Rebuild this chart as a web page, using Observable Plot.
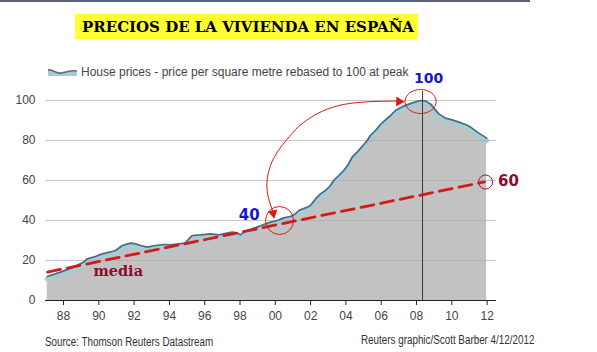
<!DOCTYPE html>
<html>
<head>
<meta charset="utf-8">
<script src="https://cdn.jsdelivr.net/npm/d3@7"></script>
<script src="https://cdn.jsdelivr.net/npm/@observablehq/plot@0.6"></script>
<style>
  body { margin: 0; background: #fff; }
  #wrap { position: relative; width: 597px; height: 352px; overflow: hidden; font-family: "Liberation Sans", Arial, sans-serif; }
  #chart { position: absolute; left: 0; top: 0; }
  .abs { position: absolute; white-space: nowrap; }
  .foot { font-family: "Liberation Sans", Arial, sans-serif; font-size: 12px; color: #333; transform: scaleX(0.82); transform-origin: 0 0; }
</style>
</head>
<body>
<div id="wrap">
  <div id="chart"></div>
  <div class="abs" style="left:0;top:0;width:530px;height:2px;background:#5b6079;"></div>
  <svg class="abs" style="left:0;top:0" width="597" height="50">
    <rect x="75" y="14" width="343" height="25" fill="#ffff33"></rect>
    <text x="82" y="32" textLength="332" lengthAdjust="spacingAndGlyphs" font-family="DejaVu Serif" font-weight="bold" font-size="15" fill="#000">PRECIOS DE LA VIVIENDA EN ESPAÑA</text>
  </svg>
  <svg class="abs" style="left:48px;top:66px" width="30" height="12">
    <path d="M0,4 C5,3 8,8 14,7 C19,6 23,4 29,5 L29,10 L0,10 Z" fill="#a9c9d2"></path>
    <path d="M0,4 C5,3 8,8 14,7 C19,6 23,4 29,5" fill="none" stroke="#53707f" stroke-width="1.6"></path>
  </svg>
  <div class="abs" style="left:81px;top:65px;font-size:12px;color:#444;">House prices - price per square metre rebased to 100 at peak</div>
  <div class="abs foot" style="left:45px;top:335px;">Source: Thomson Reuters Datastream</div>
  <div class="abs foot" style="left:361px;top:333px;">Reuters graphic/Scott Barber 4/12/2012</div>
</div>
<script>
// House price index (rebased to 100 at peak)
const years = [1987.08,1987.83,1988.58,1989.15,1989.34,1989.81,1990.19,1990.76,1990.95,1991.33,
  1991.80,1992.08,1992.36,1992.74,1993.21,1993.68,1994.06,1994.53,1994.91,1995.10,
  1995.29,1995.76,1996.33,1996.80,1997.27,1997.56,1997.84,1998.03,1998.31,1998.69,
  1998.97,1999.35,1999.73,2000.11,2000.48,2000.86,2001.14,2001.33,2001.71,2001.99,
  2002.28,2002.56,2002.84,2003.13,2003.31,2003.60,2003.88,2004.16,2004.36,2004.64,
  2004.92,2005.21,2005.39,2005.68,2005.96,2006.24,2006.53,2006.81,2007.28,2007.76,
  2008.23,2008.51,2008.79,2008.98,2009.26,2009.64,2010.02,2010.40,2010.78,2011.06,
  2011.44,2011.97];
const values = [12.0,14.2,16.7,19.2,20.8,22.0,23.3,24.5,25.0,27.5,
  28.7,28.3,27.5,26.7,27.5,28.0,27.8,28.3,28.7,30.8,
  32.5,32.8,33.3,32.8,33.7,34.2,33.7,32.8,34.7,35.8,
  36.7,38.0,39.2,40.0,41.3,42.0,43.3,45.0,46.3,47.5,
  50.8,53.3,55.0,57.5,60.0,62.5,65.0,68.3,71.7,74.2,
  77.0,80.0,82.5,85.0,88.0,90.3,92.5,95.0,97.2,98.8,
  100.0,99.7,98.3,96.2,93.3,91.2,90.3,89.2,88.0,86.7,
  84.2,81.2];

// Axis ticks
const xTicks = [1988,1990,1992,1994,1996,1998,2000,2002,2004,2006,2008,2010,2012];
const xTickLabels = ["88","90","92","94","96","98","00","02","04","06","08","10","12"];
const yTicks = [0,20,40,60,80,100];

// "media" trend line (start / end)
const meanYears = [1987.1, 2011.85];
const meanValues = [14.2, 59.3];

// Peak marker
const peakYear = 2008.34;
const peakTop = 104.5;

// Annotation points
const peakPoint = {year: 2008.23, value: 99.5};
const fortyPoint = {year: 2000.24, value: 40};
const sixtyPoint = {year: 2011.91, value: 59.25};

// Curved arrow path (from the 40 point to the peak)
const arrowYears = [1999.84,1999.52,1999.9,2000.8,2001.6,2003.6,2006.9];
const arrowValues = [45,57,71,82,89,97.5,99.75];
const arrowHeadPeak = {year: 2007.01, value: 99.5};
const arrowHeadForty = {year: 1999.88, value: 43.65};

const data = years.map((y, i) => ({year: y, value: values[i]}));
const meanLine = meanYears.map((y, i) => ({year: y, value: meanValues[i]}));
const arrowLine = arrowYears.map((y, i) => ({year: y, value: arrowValues[i]}));

const ellipseSymbol = {
  draw(ctx, size) {
    const r = Math.sqrt(size / Math.PI);
    const rx = r * 1.3, ry = r, k = 0.5523;
    ctx.moveTo(rx, 0);
    ctx.bezierCurveTo(rx, ry * k, rx * k, ry, 0, ry);
    ctx.bezierCurveTo(-rx * k, ry, -rx, ry * k, -rx, 0);
    ctx.bezierCurveTo(-rx, -ry * k, -rx * k, -ry, 0, -ry);
    ctx.bezierCurveTo(rx * k, -ry, rx, -ry * k, rx, 0);
    ctx.closePath();
  }
};

const red = "#e01616";
const chart = Plot.plot({
  width: 597,
  height: 352,
  marginLeft: 45,
  marginRight: 101,
  marginTop: 100,
  marginBottom: 52,
  style: {fontFamily: "Liberation Sans, Arial, sans-serif", fontSize: "12px", color: "#444", background: "transparent", overflow: "visible"},
  x: {domain: [1986.98, 2012.53]},
  y: {domain: [0, 100]},
  marks: [
    Plot.ruleY(yTicks.filter(d => d > 0), {stroke: "#dcdcdc"}),
    Plot.areaY(data, {x: "year", y: "value", fill: "#c2c2c2"}),
    Plot.line(data, {x: "year", y: "value", stroke: "#a8cbd4", strokeWidth: 5, dy: 2.5}),
    Plot.ruleY(yTicks.filter(d => d > 0), {stroke: "#888", strokeOpacity: 0.25}),
    Plot.line(data, {x: "year", y: "value", stroke: "#4e6c80", strokeWidth: 1.7}),
    Plot.ruleX([peakYear], {y1: 0, y2: peakTop, stroke: "#3a3a3a", strokeWidth: 1}),
    Plot.line(meanLine, {x: "year", y: "value", stroke: "#cf1c1c", strokeWidth: 2.8, strokeDasharray: "13,7"}),
    Plot.ruleY([0], {stroke: "#222", strokeWidth: 1}),
    Plot.axisX({ticks: xTicks, tickFormat: (d) => xTickLabels[xTicks.indexOf(d)], tickSize: 5, tickPadding: 6, fontSize: 12, fill: "#444", stroke: "#222", label: null}),
    Plot.axisY({ticks: yTicks, tickSize: 0, tickPadding: 10, fontSize: 12, fill: "#444", label: null}),
    Plot.dot([peakPoint], {x: "year", y: "value", r: 12, symbol: ellipseSymbol, stroke: red, strokeWidth: 1, fill: "none"}),
    Plot.dot([fortyPoint], {x: "year", y: "value", r: 14, stroke: red, strokeWidth: 1, fill: "none"}),
    Plot.dot([sixtyPoint], {x: "year", y: "value", r: 7, stroke: "#b01030", strokeWidth: 1, fill: "none"}),
    Plot.line(arrowLine, {x: "year", y: "value", curve: "natural", stroke: red, strokeWidth: 1}),
    Plot.dot([arrowHeadPeak], {x: "year", y: "value", symbol: "triangle", r: 3.6, fill: red, stroke: "none", rotate: 92}),
    Plot.dot([arrowHeadForty], {x: "year", y: "value", symbol: "triangle", r: 3.6, fill: red, stroke: "none", rotate: 168}),
    Plot.text(["100"], {x: 2008.68, y: 111, fill: "#1616d0", fontSize: 14, fontWeight: "bold", fontFamily: "DejaVu Sans"}),
    Plot.text(["40"], {x: 1998.52, y: 42.75, fill: "#1616d0", fontSize: 15, fontWeight: "bold", fontFamily: "DejaVu Sans"}),
    Plot.text(["60"], {x: 2013.21, y: 59.5, fill: "#8e0a2a", fontSize: 15, fontWeight: "bold", fontFamily: "DejaVu Sans"}),
    Plot.text(["media"], {x: 1991.1, y: 14.75, fill: "#8e0a2a", fontSize: 14.5, fontWeight: "bold", fontFamily: "DejaVu Serif"})
  ]
});
document.getElementById("chart").appendChild(chart);
</script>
</body>
</html>
